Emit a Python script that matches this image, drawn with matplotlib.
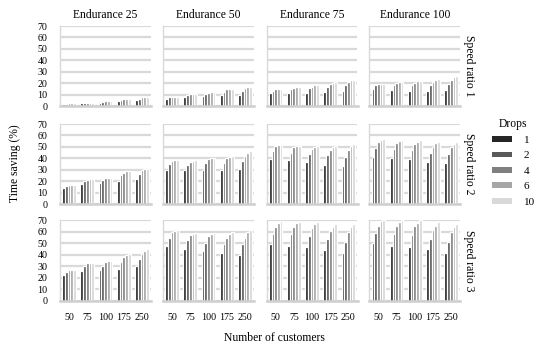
import matplotlib
matplotlib.use("Agg")
import matplotlib.pyplot as plt
from matplotlib.patches import Patch
import numpy as np

plt.rcParams['font.family'] = ['Liberation Serif', 'DejaVu Serif']

customers = ['50', '75', '100', '175', '250']
drops = ['1', '2', '4', '6', '10']
endurances = [25, 50, 75, 100]
speed_ratios = [1, 2, 3]
drop_colors = ['#262626', '#595959', '#808080', '#a6a6a6', '#d9d9d9']

# rows: customers (50, 75, 100, 175, 250); columns: drops (1, 2, 4, 6, 10)
sr1_e25 = [[1.8, 2.0, 2.2, 2.2, 2.2], [2.2, 2.8, 3.0, 3.0, 3.0], [3.0, 3.5, 4.0, 4.0, 4.0],
           [4.5, 5.5, 6.2, 6.5, 6.5], [5.5, 6.5, 7.5, 7.8, 8.0]]
sr1_e50 = [[6.5, 7.5, 8.0, 8.2, 8.2], [7.5, 9.5, 10.5, 10.5, 10.5], [8.5, 10.5, 11.5, 12.0, 12.0],
           [9.5, 12.5, 14.5, 15.0, 15.0], [10.0, 13.5, 15.5, 16.5, 17.0]]
sr1_e75 = [[11, 13, 14.5, 15, 15], [11, 14.5, 16, 17, 17], [11, 15.5, 17, 18, 18.5],
           [12, 16.5, 19, 20.5, 21], [13, 18, 21, 22.5, 23]]
sr1_e100 = [[15, 18, 19, 19.5, 19.5], [14, 18, 20, 21, 21], [13.5, 18, 20.5, 22, 22],
            [13.5, 18, 21, 23, 24], [14, 19, 23, 25, 26]]

sr2_e25 = [[14, 16, 17, 17, 17], [17.5, 20, 21, 21.5, 21.5], [18, 21, 23, 23, 23],
           [20.5, 25, 27.5, 28.5, 28.5], [22, 26.5, 29.5, 31, 31]]
sr2_e50 = [[30, 35, 38, 38.5, 38.5], [29.5, 34, 37, 38, 38.5], [29.5, 36, 39, 40, 40.5],
           [29.5, 35.5, 40, 41.5, 42], [30.5, 38, 42, 45, 46.5]]
sr2_e75 = [[39.5, 46.5, 50.5, 51.5, 52], [38.5, 44.5, 49.5, 50.5, 51], [36.5, 43.5, 48, 49.5, 50.5],
           [34.5, 42.5, 47, 49.5, 50.5], [33.5, 41.5, 47.5, 50.5, 52.5]]
sr2_e100 = [[41.5, 49, 54, 56, 57], [40, 48.5, 53, 55, 56], [39, 47.5, 52.5, 54.5, 56],
            [36.5, 45, 50, 53.5, 54.5], [35.5, 43.5, 49.5, 52.5, 54]]

sr3_e25 = [[22, 25, 26.5, 27, 27], [26, 30, 32.5, 33, 33], [26.5, 30.5, 33.5, 34.5, 34.5],
           [27.5, 34, 38, 40, 41], [30, 36.5, 41, 43.5, 45]]
sr3_e50 = [[47.5, 55, 59.5, 61, 61.5], [45, 52.5, 57.5, 58.5, 59], [43, 50.5, 56, 58, 59],
           [41.5, 49.5, 55, 58.5, 59.5], [39.5, 49.5, 55, 59.5, 61.5]]
sr3_e75 = [[49, 58, 64, 68, 69.5], [48, 58, 64.5, 67.5, 68.5], [47, 56.5, 63, 66.5, 68.5],
           [44.5, 54, 61, 64.5, 66.5], [41.5, 51, 59.5, 64.5, 67]]
sr3_e100 = [[50, 59, 65, 69.5, 70.5], [48, 58, 65, 68.5, 70], [47, 57, 65, 68, 70],
            [45, 54, 61.5, 65.5, 68.5], [41.5, 51, 59.5, 64, 66.5]]

panels = [[sr1_e25, sr1_e50, sr1_e75, sr1_e100],
          [sr2_e25, sr2_e50, sr2_e75, sr2_e100],
          [sr3_e25, sr3_e50, sr3_e75, sr3_e100]]

W, H = 544, 355
fig = plt.figure(figsize=(W / 100, H / 100), dpi=100)

col_left = [60, 163, 266.5, 369.3]
col_w = 91
row_bottom = [106, 204, 300.5]
row_h = 80

x = np.arange(len(customers))
bw = 0.15
offsets = (np.arange(len(drops)) - 2) * bw

for r in range(3):
    for c in range(4):
        ax = fig.add_axes([col_left[c] / W, 1 - row_bottom[r] / H, col_w / W, row_h / H])
        data = np.array(panels[r][c])
        for d in range(len(drops)):
            ax.bar(x + offsets[d], data[:, d], width=bw, color=drop_colors[d],
                   edgecolor='white', linewidth=0.9, zorder=2, clip_on=False)
        ax.set_xlim(-0.5, 4.5)
        ax.set_ylim(0, 70)
        ax.set_yticks(range(0, 80, 10))
        ax.yaxis.grid(True, color='#d9d9d9', linewidth=1.6, zorder=0)
        ax.set_axisbelow(True)
        for s in ['top', 'right']:
            ax.spines[s].set_visible(False)
        ax.spines['left'].set_color('#d9d9d9')
        ax.spines['left'].set_linewidth(1.0)
        ax.spines['bottom'].set_color('#cfcfcf')
        ax.spines['bottom'].set_linewidth(1.8)
        ax.tick_params(length=0, labelsize=7.2, pad=9.0, colors='black')
        ax.set_xticks(x)
        if r == 2:
            ax.set_xticklabels(customers)
        else:
            ax.set_xticklabels([])
        if c != 0:
            ax.set_yticklabels([])
        if r == 0:
            ax.set_title(f'Endurance {endurances[c]}', fontsize=8.4, pad=6)
    yc = row_bottom[r] - row_h / 2
    fig.text(469 / W, 1 - yc / H, f'Speed ratio {speed_ratios[r]}', rotation=-90,
             ha='center', va='center', fontsize=8.4)

fig.text(15 / W, 1 - 163.5 / H, 'Time saving (%)', rotation=90, ha='center', va='center', fontsize=8.4)
fig.text(274.5 / W, 1 - 338 / H, 'Number of customers', ha='center', va='center', fontsize=8.4)

handles = [Patch(facecolor=col, edgecolor='none') for col in drop_colors]
fig.legend(handles, drops, title='Drops', loc='upper left',
           bbox_to_anchor=(486 / W, 1 - 112 / H), frameon=False, fontsize=8,
           title_fontsize=8.4, handlelength=1.8, handleheight=0.45,
           labelspacing=0.58, borderpad=0, handletextpad=1.1)

fig.savefig('out.png', dpi=100)
